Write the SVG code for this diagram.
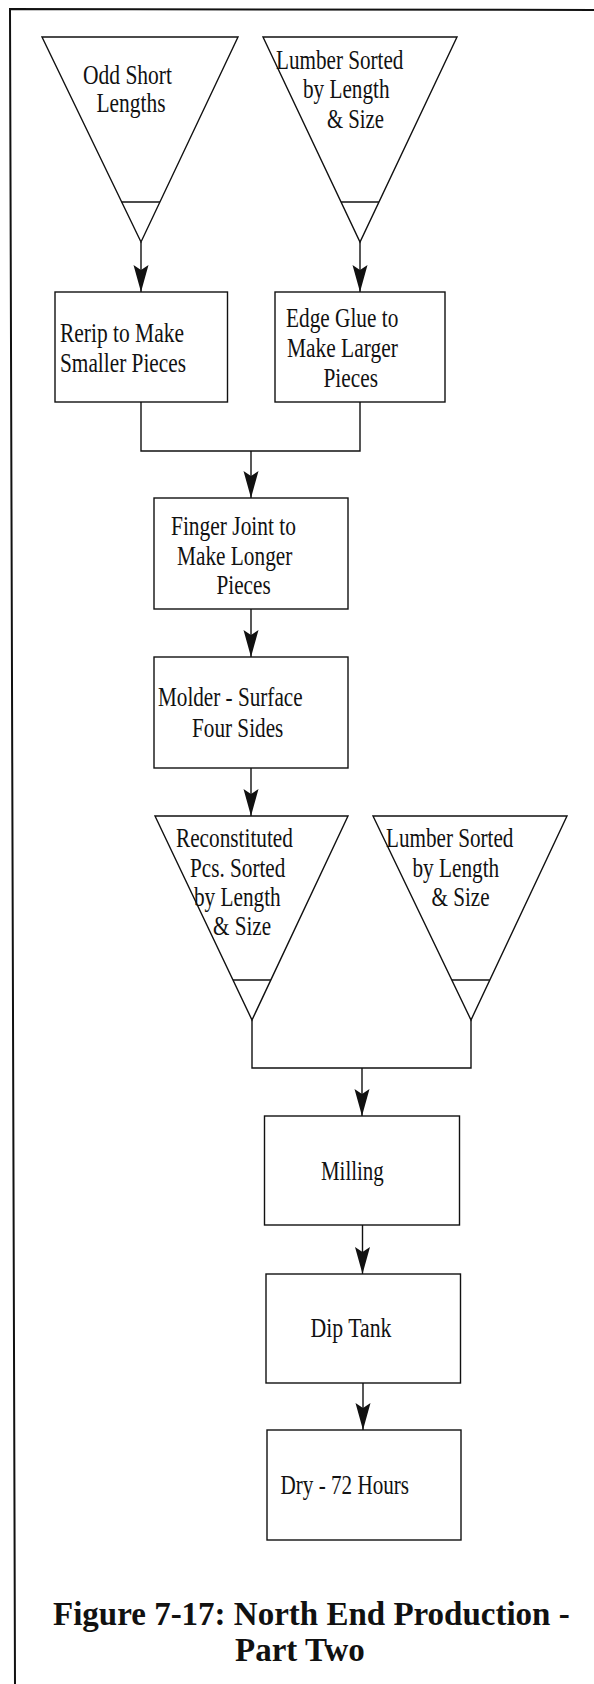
<svg xmlns="http://www.w3.org/2000/svg" width="594" height="1684" viewBox="0 0 594 1684">
<style>
  .shape { fill: #fff; stroke: #111; stroke-width: 1.4; }
  .line { fill: none; stroke: #111; stroke-width: 1.4; }
  .frame { fill: none; stroke: #111; stroke-width: 2; }
  .t { font-family: "Liberation Serif", "Times New Roman", serif; font-size: 28px; fill: #111; }
  .title { font-family: "Liberation Serif", "Times New Roman", serif; font-size: 33px; font-weight: bold; fill: #111; }
</style>
<defs>
  <marker id="arrow" markerUnits="userSpaceOnUse" viewBox="-28 -9 29 18" markerWidth="29" markerHeight="18" refX="0" refY="0" orient="auto">
    <path d="M0,0 L-27,-7.5 L-22,0 L-27,7.5 Z" fill="#111"/>
  </marker>
</defs>
<rect width="594" height="1684" fill="#fff"/>
<path class="frame" d="M594,10 L10,9 L15,1684"/>

<g id="connectors">
  <line class="line" x1="141" y1="242" x2="141" y2="292" marker-end="url(#arrow)"/>
  <line class="line" x1="360" y1="242" x2="360" y2="292" marker-end="url(#arrow)"/>
  <polyline class="line" points="141,402 141,451 360,451 360,402"/>
  <line class="line" x1="251" y1="451" x2="251" y2="498" marker-end="url(#arrow)"/>
  <line class="line" x1="251" y1="609" x2="251" y2="657" marker-end="url(#arrow)"/>
  <line class="line" x1="251" y1="768" x2="251" y2="816" marker-end="url(#arrow)"/>
  <polyline class="line" points="252,1020 252,1068 471,1068 471,1020"/>
  <line class="line" x1="362" y1="1068" x2="362" y2="1116" marker-end="url(#arrow)"/>
  <line class="line" x1="362.5" y1="1225" x2="362.5" y2="1274" marker-end="url(#arrow)"/>
  <line class="line" x1="363" y1="1383" x2="363" y2="1430" marker-end="url(#arrow)"/>
</g>

<g id="odd-short-lengths">
  <polygon class="shape" points="42,37 238,37 141,242"/>
  <line class="line" x1="121.7" y1="202" x2="160" y2="202"/>
  <text class="t" x="83" y="83.5" textLength="89" lengthAdjust="spacingAndGlyphs">Odd Short</text>
  <text class="t" x="96.5" y="112" textLength="69" lengthAdjust="spacingAndGlyphs">Lengths</text>
</g>

<g id="lumber-sorted-1">
  <polygon class="shape" points="263,37 457,37 360,242"/>
  <line class="line" x1="341.1" y1="202" x2="378.9" y2="202"/>
  <text class="t" x="276" y="68.5" textLength="127.4" lengthAdjust="spacingAndGlyphs">Lumber Sorted</text>
  <text class="t" x="303" y="98" textLength="86.5" lengthAdjust="spacingAndGlyphs">by Length</text>
  <text class="t" x="327" y="127.5" textLength="57" lengthAdjust="spacingAndGlyphs">&amp; Size</text>
</g>

<g id="rerip">
  <rect class="shape" x="55" y="292" width="172.5" height="110"/>
  <text class="t" x="60" y="341.7" textLength="124" lengthAdjust="spacingAndGlyphs">Rerip to Make</text>
  <text class="t" x="60" y="371.7" textLength="126" lengthAdjust="spacingAndGlyphs">Smaller Pieces</text>
</g>

<g id="edge-glue">
  <rect class="shape" x="275" y="292" width="170" height="110"/>
  <text class="t" x="286" y="326.7" textLength="112.3" lengthAdjust="spacingAndGlyphs">Edge Glue to</text>
  <text class="t" x="287" y="356.7" textLength="110.8" lengthAdjust="spacingAndGlyphs">Make Larger</text>
  <text class="t" x="323.5" y="386.7" textLength="54.5" lengthAdjust="spacingAndGlyphs">Pieces</text>
</g>

<g id="finger-joint">
  <rect class="shape" x="154" y="498" width="194" height="111"/>
  <text class="t" x="171" y="535" textLength="125" lengthAdjust="spacingAndGlyphs">Finger Joint to</text>
  <text class="t" x="177" y="564.5" textLength="115.4" lengthAdjust="spacingAndGlyphs">Make Longer</text>
  <text class="t" x="216.5" y="593.5" textLength="54.2" lengthAdjust="spacingAndGlyphs">Pieces</text>
</g>

<g id="molder">
  <rect class="shape" x="154" y="657" width="194" height="111"/>
  <text class="t" x="158" y="706" textLength="144.6" lengthAdjust="spacingAndGlyphs">Molder - Surface</text>
  <text class="t" x="192" y="736.7" textLength="91.3" lengthAdjust="spacingAndGlyphs">Four Sides</text>
</g>

<g id="reconstituted">
  <polygon class="shape" points="155,816 348,816 252,1020"/>
  <line class="line" x1="233" y1="980" x2="270.8" y2="980"/>
  <text class="t" x="176" y="846.7" textLength="116.9" lengthAdjust="spacingAndGlyphs">Reconstituted</text>
  <text class="t" x="190" y="876.7" textLength="95.3" lengthAdjust="spacingAndGlyphs">Pcs. Sorted</text>
  <text class="t" x="194" y="906" textLength="86.7" lengthAdjust="spacingAndGlyphs">by Length</text>
  <text class="t" x="213" y="935" textLength="58" lengthAdjust="spacingAndGlyphs">&amp; Size</text>
</g>

<g id="lumber-sorted-2">
  <polygon class="shape" points="373,816 567,816 471,1020"/>
  <line class="line" x1="451.8" y1="980" x2="489.8" y2="980"/>
  <text class="t" x="386" y="846.7" textLength="127.4" lengthAdjust="spacingAndGlyphs">Lumber Sorted</text>
  <text class="t" x="412.5" y="876.7" textLength="86.7" lengthAdjust="spacingAndGlyphs">by Length</text>
  <text class="t" x="431.5" y="906" textLength="58" lengthAdjust="spacingAndGlyphs">&amp; Size</text>
</g>

<g id="milling">
  <rect class="shape" x="264.5" y="1116" width="195" height="109"/>
  <text class="t" x="321" y="1180" textLength="62.8" lengthAdjust="spacingAndGlyphs">Milling</text>
</g>

<g id="dip-tank">
  <rect class="shape" x="266" y="1274" width="194.5" height="109"/>
  <text class="t" x="310.5" y="1336.7" textLength="81" lengthAdjust="spacingAndGlyphs">Dip Tank</text>
</g>

<g id="dry">
  <rect class="shape" x="267" y="1430" width="194" height="110"/>
  <text class="t" x="280.5" y="1494" textLength="128.6" lengthAdjust="spacingAndGlyphs">Dry - 72 Hours</text>
</g>

<g id="caption">
  <text class="title" x="53" y="1625">Figure 7-17: North End Production -</text>
  <text class="title" x="235" y="1661">Part Two</text>
</g>
</svg>
